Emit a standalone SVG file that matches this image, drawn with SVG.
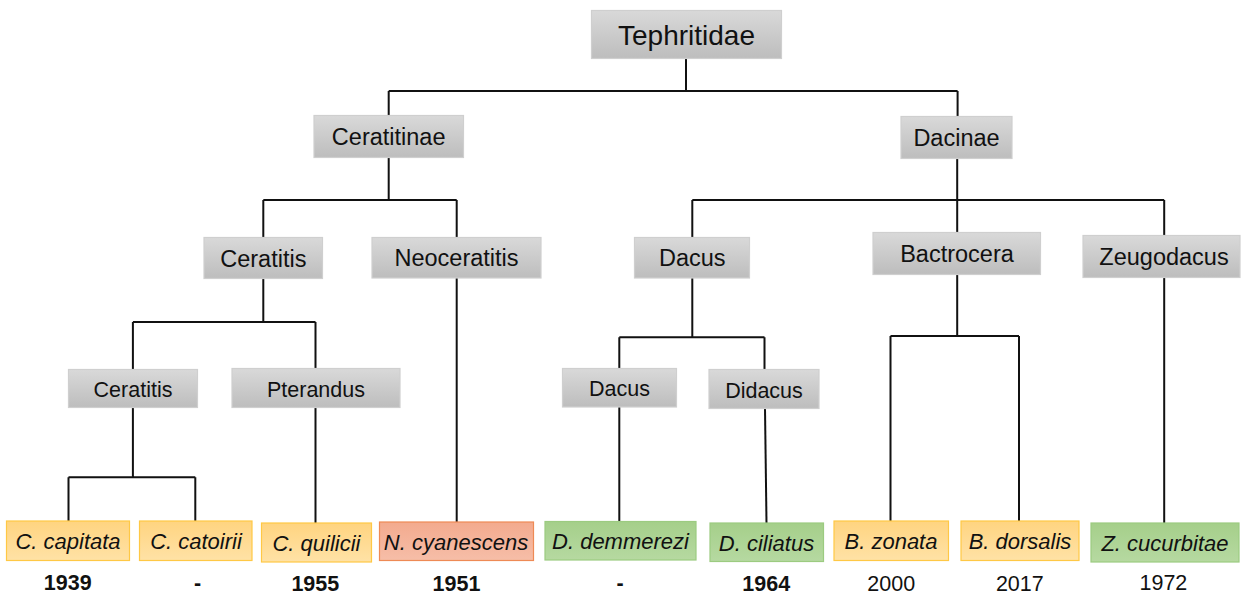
<svg xmlns="http://www.w3.org/2000/svg" width="1242" height="594" viewBox="0 0 1242 594">
<defs>
<linearGradient id="gGray" x1="0" y1="0" x2="0" y2="1"><stop offset="0" stop-color="#d9d9d9"/><stop offset="1" stop-color="#bdbdbd"/></linearGradient>
<linearGradient id="gOrange" x1="0" y1="0" x2="0" y2="1"><stop offset="0" stop-color="#ffd480"/><stop offset="1" stop-color="#ffe2a6"/></linearGradient>
<linearGradient id="gSalmon" x1="0" y1="0" x2="0" y2="1"><stop offset="0" stop-color="#f3aa8e"/><stop offset="1" stop-color="#f6bea8"/></linearGradient>
<linearGradient id="gGreen" x1="0" y1="0" x2="0" y2="1"><stop offset="0" stop-color="#a5cf8a"/><stop offset="1" stop-color="#b6d9a1"/></linearGradient>
</defs>
<style>
.gray{fill:url(#gGray);stroke:#cfcfcf;stroke-width:1.2}
.orange{fill:url(#gOrange);stroke:#ffc845;stroke-width:1.2}
.salmon{fill:url(#gSalmon);stroke:#ee8a55;stroke-width:1.2}
.green{fill:url(#gGreen);stroke:#9ccb80;stroke-width:1.2}
text{font-family:"Liberation Sans",Arial,sans-serif;fill:#111;text-anchor:middle}
.t1{font-size:28px}
.t2{font-size:23.5px}
.t4{font-size:21.5px}
.leaf{font-size:22px;font-style:italic}
.yr{font-size:21.5px}
.b{font-weight:bold}
#connectors path{fill:none;stroke:#111;stroke-width:2}
</style>
<g id="connectors">
<path d="M686,58.7 V91 M388.7,91 H957.6 M388.7,91 V115.5 M957.6,91 V116.5"/>
<path d="M388.7,157.5 V200 M263.3,200 H456.7 M263.3,200 V237.5 M456.7,200 V237.5"/>
<path d="M957.2,158.5 V232.5 M692.3,200 H1164.2 M692.3,200 V237.5 M1164.2,200 V235.5"/>
<path d="M263.3,278.5 V322 M132.9,322 H315.5 M132.9,322 V369.5 M315.5,322 V368.5"/>
<path d="M456.7,278 V522"/>
<path d="M692.3,278 V337.3 M619.3,337.3 H764.5 M619.3,337.3 V368.5 M764.5,337.3 V369.5"/>
<path d="M957.2,274.5 V336 M890.5,336 H1019 M890.5,336 V521 M1019,336 V521"/>
<path d="M1164.2,277.5 V523"/>
<path d="M132.9,407.5 V477.3 M68.5,477.3 H195.3 M68.5,477.3 V521 M195.3,477.3 V521"/>
<path d="M315.5,407.5 V523"/>
<path d="M619.3,407 V521.5"/>
<path d="M765,408.5 L766.5,523"/>
</g>
<g id="n-tephritidae"><rect class="gray" x="591.5" y="10.5" width="190" height="48"/><text class="t1" x="686.5" y="44.5">Tephritidae</text></g>
<g id="n-ceratitinae"><rect class="gray" x="314" y="115.5" width="149.5" height="42"/><text class="t2" x="388.7" y="145">Ceratitinae</text></g>
<g id="n-dacinae"><rect class="gray" x="901" y="116.5" width="111" height="42"/><text class="t2" x="956.5" y="146">Dacinae</text></g>
<g id="n-ceratitis-g"><rect class="gray" x="204" y="237.5" width="118.5" height="41"/><text class="t2" x="263.3" y="266.5">Ceratitis</text></g>
<g id="n-neoceratitis"><rect class="gray" x="372" y="237.5" width="169" height="40.5"/><text class="t2" x="456.5" y="266">Neoceratitis</text></g>
<g id="n-dacus-g"><rect class="gray" x="634.5" y="237.5" width="115" height="40.5"/><text class="t2" x="692.3" y="266">Dacus</text></g>
<g id="n-bactrocera"><rect class="gray" x="873" y="232.5" width="167.5" height="42"/><text class="t2" x="957" y="262">Bactrocera</text></g>
<g id="n-zeugodacus"><rect class="gray" x="1083" y="235.5" width="157" height="42"/><text class="t2" x="1164" y="264.5">Zeugodacus</text></g>
<g id="n-ceratitis-s"><rect class="gray" x="68.5" y="369.5" width="129" height="38"/><text class="t4" x="133" y="396.5">Ceratitis</text></g>
<g id="n-pterandus"><rect class="gray" x="232" y="368.5" width="168" height="39"/><text class="t4" x="316" y="396.5">Pterandus</text></g>
<g id="n-dacus-s"><rect class="gray" x="562.5" y="368.5" width="114" height="38.5"/><text class="t4" x="619.5" y="396">Dacus</text></g>
<g id="n-didacus"><rect class="gray" x="709" y="369.5" width="110" height="39"/><text class="t4" x="764" y="397.5">Didacus</text></g>
<g id="n-capitata"><rect class="orange" x="6.5" y="521" width="123" height="39.5"/><text class="leaf" x="68" y="549">C. capitata</text><text class="yr b" x="67.7" y="590">1939</text></g>
<g id="n-catoirii"><rect class="orange" x="139.5" y="521" width="112.5" height="39.5"/><text class="leaf" x="196" y="549">C. catoirii</text><text class="yr b" x="197.7" y="590">-</text></g>
<g id="n-quilicii"><rect class="orange" x="261.5" y="523" width="110" height="39"/><text class="leaf" x="316.5" y="551">C. quilicii</text><text class="yr b" x="315.3" y="590.5">1955</text></g>
<g id="n-cyanescens"><rect class="salmon" x="379.5" y="522" width="154" height="38.5"/><text class="leaf" x="456" y="549.5">N. cyanescens</text><text class="yr b" x="456.5" y="590.5">1951</text></g>
<g id="n-demmerezi"><rect class="green" x="545" y="521.5" width="151" height="38.5"/><text class="leaf" x="620.5" y="549">D. demmerezi</text><text class="yr b" x="620" y="590">-</text></g>
<g id="n-ciliatus"><rect class="green" x="710" y="523" width="113.5" height="38.5"/><text class="leaf" x="766.5" y="550.5">D. ciliatus</text><text class="yr b" x="766.2" y="590.5">1964</text></g>
<g id="n-zonata"><rect class="orange" x="834" y="521" width="114.5" height="39.5"/><text class="leaf" x="891" y="549">B. zonata</text><text class="yr" x="891.2" y="590.5">2000</text></g>
<g id="n-dorsalis"><rect class="orange" x="961" y="521" width="118" height="39.5"/><text class="leaf" x="1020" y="549">B. dorsalis</text><text class="yr" x="1019.8" y="590.5">2017</text></g>
<g id="n-cucurbitae"><rect class="green" x="1091" y="523" width="148" height="39"/><text class="leaf" x="1165" y="551">Z. cucurbitae</text><text class="yr" x="1163.4" y="590">1972</text></g>
</svg>
